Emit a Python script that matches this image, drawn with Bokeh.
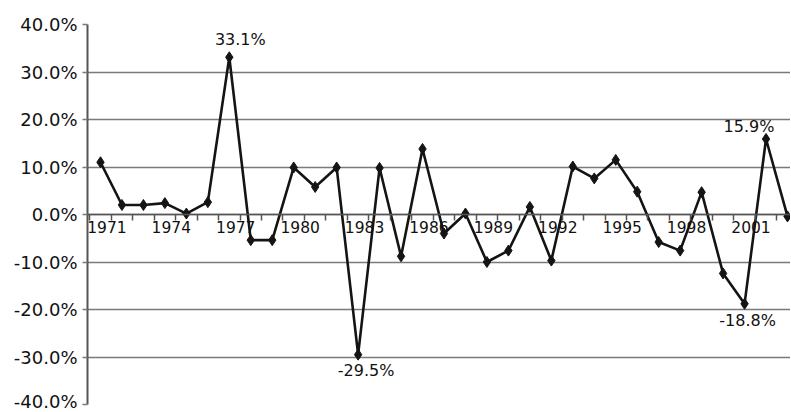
from bokeh.plotting import figure
from bokeh.models import (FixedTicker, PrintfTickFormatter, Range1d, ColumnDataSource,
                          LinearAxis, CustomJSTickFormatter)
from bokeh.embed import file_html
from bokeh.resources import INLINE
from bokeh.core.properties import value

# ---- data -------------------------------------------------------------
years = list(range(1971, 2004))
returns = [11.0, 2.0, 2.0, 2.4, 0.2, 2.6, 33.1, -5.4, -5.4, 9.9,
           5.8, 9.9, -29.5, 9.8, -8.8, 13.8, -4.0, 0.2, -10.0, -7.6,
           1.6, -9.7, 10.1, 7.6, 11.5, 4.8, -5.8, -7.6, 4.7, -12.4,
           -18.8, 15.9, -0.4]
x_tick_years = [1971, 1974, 1977, 1980, 1983, 1986, 1989, 1992, 1995, 1998, 2001]
y_ticks = [-40, -30, -20, -10, 0, 10, 20, 30, 40]
label_years = [1977, 1983, 2001, 2002]
label_texts = ["33.1%", "-29.5%", "-18.8%", "15.9%"]

# ---- styling ----------------------------------------------------------
FONT = "DejaVu Sans"
INK = "#141414"
TEXT = "#111111"
GRID = "#7a7a7a"
AXIS = "#555555"
label_dx = [11, 8, 3, -17]
label_dy = [-18, 16, 17, -12]
LABEL_SHIFT = 0.3   # x labels sit a little right of their category centre

p = figure(width=790, height=411, output_backend="svg", toolbar_location=None,
           x_range=Range1d(years[0] - 0.605, years[-1] + 0.14),
           y_range=Range1d(-40, 40),
           min_border_left=87, min_border_right=0, min_border_top=24,
           min_border_bottom=7)
p.outline_line_color = None
p.background_fill_color = "white"
p.border_fill_color = "white"

# grid
p.xgrid.grid_line_color = None
p.ygrid.ticker = FixedTicker(ticks=y_ticks)
p.ygrid.grid_line_color = GRID
p.ygrid.grid_line_width = 1.6

# y axis
ya = p.yaxis[0]
ya.ticker = FixedTicker(ticks=y_ticks)
ya.formatter = PrintfTickFormatter(format="%.1f%%")
ya.major_tick_in = 0
ya.major_tick_out = 5
ya.minor_tick_in = 0
ya.minor_tick_out = 0
ya.axis_line_color = AXIS
ya.axis_line_width = 2
ya.major_tick_line_color = GRID
ya.major_tick_line_width = 1.6
ya.major_label_text_font = FONT
ya.major_label_text_font_size = "18px"
ya.major_label_text_color = TEXT
ya.major_label_standoff = 5

# x axis line with category-boundary ticks, drawn at y = 0
xa = p.xaxis[0]
xa.fixed_location = 0
xa.ticker = FixedTicker(ticks=[y - 0.5 for y in years] + [years[-1] + 0.5])
xa.major_tick_in = 0
xa.major_tick_out = 6
xa.minor_tick_in = 0
xa.minor_tick_out = 0
xa.major_tick_line_color = "#555555"
xa.major_tick_line_width = 1.5
xa.axis_line_color = AXIS
xa.axis_line_width = 1.6
xa.major_label_text_color = None
xa.major_label_text_font_size = "1px"
xa.major_label_standoff = 0

# year labels, every third year
xl = LinearAxis(fixed_location=0,
                ticker=FixedTicker(ticks=[y + LABEL_SHIFT for y in x_tick_years]),
                formatter=CustomJSTickFormatter(
                    args=dict(shift=LABEL_SHIFT),
                    code="return String(Math.round(tick - shift));"),
                axis_line_color=None, major_tick_line_color=None,
                minor_tick_line_color=None,
                major_tick_in=0, major_tick_out=0, minor_tick_in=0, minor_tick_out=0,
                major_label_text_font=FONT, major_label_text_font_size="15.5px",
                major_label_text_color=TEXT, major_label_standoff=6)
p.add_layout(xl, "below")

# series
src = ColumnDataSource(dict(year=years, ret=returns))
p.line("year", "ret", source=src, line_color=INK, line_width=2.6)
p.scatter("year", "ret", source=src, marker="diamond", size=11,
          fill_color=INK, line_color=INK)

# value labels
lookup = dict(zip(years, returns))
lsrc = ColumnDataSource(dict(x=label_years, y=[lookup[y] for y in label_years],
                             t=label_texts, dx=label_dx, dy=label_dy))
p.text("x", "y", text="t", source=lsrc, x_offset="dx", y_offset="dy",
       text_align="center", text_baseline="middle",
       text_font=value(FONT), text_font_size="16px", text_color=TEXT)

open("out.html", "w").write(file_html(p, INLINE))
